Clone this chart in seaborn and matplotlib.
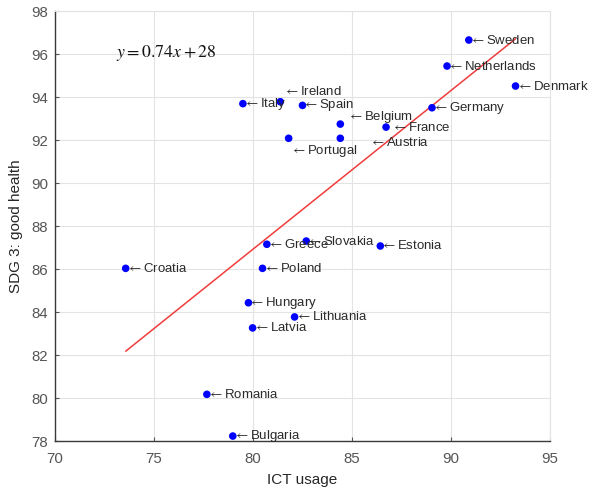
import numpy as np
import pandas as pd
import matplotlib
matplotlib.use("Agg")
import matplotlib.pyplot as plt
import seaborn as sns

# Data
countries = ["Sweden", "Netherlands", "Denmark", "Germany", "France", "Belgium",
             "Austria", "Ireland", "Italy", "Spain", "Portugal", "Greece",
             "Slovakia", "Estonia", "Croatia", "Poland", "Hungary", "Lithuania",
             "Latvia", "Romania", "Bulgaria"]
ict_usage = [90.9, 89.8, 93.26, 89.04, 86.72, 84.41,
             84.41, 81.38, 79.49, 82.50, 81.80, 80.70,
             82.69, 86.43, 73.57, 80.48, 79.77, 82.10,
             79.98, 77.67, 78.98]
sdg3_health = [96.65, 95.44, 94.51, 93.50, 92.60, 92.74,
               92.08, 93.78, 93.69, 93.61, 92.08, 87.15,
               87.30, 87.07, 86.03, 86.03, 84.43, 83.77,
               83.26, 80.17, 78.23]
x_ticks = [70, 75, 80, 85, 90, 95]
y_ticks = list(range(78, 99, 2))
equation = r"$y = 0.74x + 28$"

# Label nudges (pixels) where labels were moved off their points
label_offsets = {
    "Ireland": (4, 10),
    "Portugal": (2, -13),
    "Belgium": (8, 7),
    "Austria": (30, -4),
    "France": (6, 0),
}


def main():
    sns.set_style("whitegrid")
    plt.rcParams["font.family"] = ["Liberation Sans", "DejaVu Sans"]
    plt.rcParams["mathtext.fontset"] = "stix"

    df = pd.DataFrame({"country": countries, "ict": ict_usage, "sdg": sdg3_health})

    fig = plt.figure(figsize=(6, 4.88), dpi=100)
    ax = fig.add_axes([55 / 600, 1 - 441 / 488, 495 / 600, 430 / 488])

    sns.regplot(data=df, x="ict", y="sdg", scatter=False, ci=None, truncate=True,
                line_kws=dict(color="#f03c3c", lw=1.1), ax=ax)
    sns.scatterplot(data=df, x="ict", y="sdg", color="#0000ff", s=30,
                    edgecolor="none", zorder=3, ax=ax)

    for _, row in df.iterrows():
        dx, dy = label_offsets.get(row["country"], (1, 0))
        ax.annotate(r"$\leftarrow$" + row["country"], (row["ict"], row["sdg"]),
                    xytext=(dx, dy), textcoords="offset pixels",
                    ha="left", va="center", fontsize=9.5, color="#2a2a2a", zorder=4)

    ax.text(73.1, 96.05, equation, fontsize=12.8, color="#111111", va="center")

    ax.set_xlim(70, 95)
    ax.set_ylim(78, 98)
    ax.set_xticks(x_ticks)
    ax.set_yticks(y_ticks)
    ax.set_xlabel("ICT usage", fontsize=11, color="#262626", labelpad=5)
    ax.set_ylabel("SDG 3: good health", fontsize=11, color="#262626", labelpad=6)

    ax.grid(True, color="#e3e3e3", lw=0.8)
    ax.tick_params(axis="both", direction="in", length=3, width=0.8,
                   colors="#555555", labelsize=10.8, left=True, bottom=True)
    ax.tick_params(axis="x", pad=8)
    ax.tick_params(axis="y", pad=5)
    for side in ["left", "bottom"]:
        ax.spines[side].set_color("#3a3a3a")
        ax.spines[side].set_linewidth(1.0)
    for side in ["top", "right"]:
        ax.spines[side].set_color("#e3e3e3")
        ax.spines[side].set_linewidth(0.8)

    fig.savefig("out.png", dpi=100)


if __name__ == "__main__":
    main()
